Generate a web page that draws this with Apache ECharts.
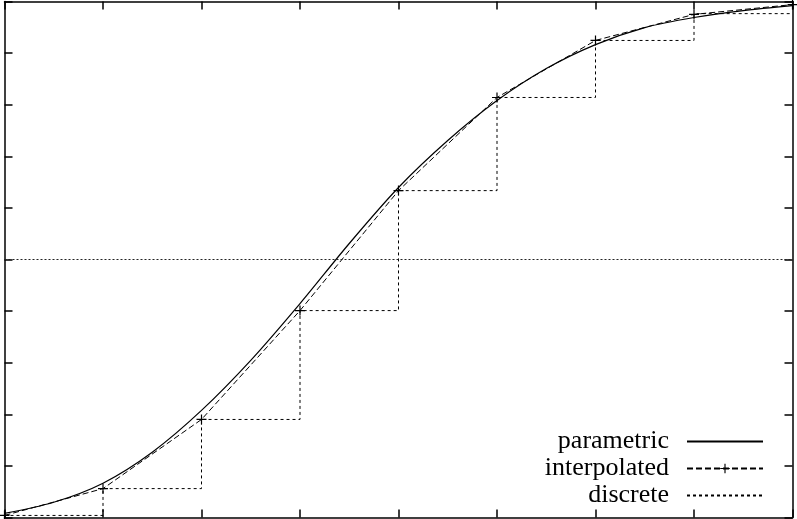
<!DOCTYPE html>
<html>
<head>
<meta charset="utf-8">
<script src="https://cdn.jsdelivr.net/npm/echarts@6/dist/echarts.min.js"></script>
<style>
  html, body { margin: 0; padding: 0; background: #fff; }
  #main { width: 797px; height: 519px; }
</style>
</head>
<body>
<div id="main"></div>
<script>
// values
var paramX = [0, 0.5, 1, 1.5, 2, 2.5, 3, 3.5, 4, 4.5, 5, 5.5, 6, 6.5, 7, 7.5, 8];
var paramY = [-0.984, -0.941, -0.867, -0.747, -0.585, -0.391, -0.171, 0.062, 0.279, 0.461, 0.616, 0.740, 0.833, 0.899, 0.938, 0.965, 0.984];
var knotX = [0, 1, 2, 3, 4, 5, 6, 7, 8];
var interpY = [-0.992, -0.888, -0.620, -0.198, 0.267, 0.628, 0.849, 0.950, 0.988];
var discreteY = [-0.992, -0.888, -0.620, -0.198, 0.267, 0.628, 0.849, 0.953, 0.953];
var names = ['parametric', 'interpolated', 'discrete'];

function pairs(xs, ys) {
  return xs.map(function (x, i) { return [x, ys[i]]; });
}

var plus = 'path://M4.4,0H5.6V4.4H10V5.6H5.6V10H4.4V5.6H0V4.4H4.4Z';

var tick = { show: true, inside: true, length: 8, lineStyle: { color: '#000', width: 1.5 } };
var line = { show: true, onZero: false, lineStyle: { color: '#000', width: 1.5 } };
var noDot = { color: 'transparent', borderColor: 'transparent' };

var myChart = echarts.init(document.getElementById('main'));
myChart.setOption({
  animation: false,
  backgroundColor: '#fff',
  grid: { left: 4.5, right: 4.5, top: 1.5, bottom: 1.5, containLabel: false },
  xAxis: [
    { type: 'value', min: 0, max: 8, interval: 1, position: 'bottom',
      axisLine: line, axisTick: tick, axisLabel: { show: false }, splitLine: { show: false } },
    { type: 'value', min: 0, max: 8, interval: 1, position: 'top',
      axisLine: line, axisTick: tick, axisLabel: { show: false }, splitLine: { show: false } }
  ],
  yAxis: [
    { type: 'value', min: -1, max: 1, interval: 0.2, position: 'left',
      axisLine: line, axisTick: tick, axisLabel: { show: false }, splitLine: { show: false } },
    { type: 'value', min: -1, max: 1, interval: 0.2, position: 'right',
      axisLine: line, axisTick: tick, axisLabel: { show: false }, splitLine: { show: false } }
  ],
  legend: {
    orient: 'vertical',
    align: 'right',
    right: 28,
    bottom: 5,
    itemWidth: 76,
    itemHeight: 12,
    itemGap: 0,
    data: [
      { name: names[0], itemStyle: noDot },
      { name: names[1] },
      { name: names[2], itemStyle: noDot }
    ],
    textStyle: { fontFamily: 'Liberation Serif', fontSize: 26, color: '#000', lineHeight: 27, padding: [0, 13, 0, 0] }
  },
  series: [
    {
      name: names[0], type: 'line', data: pairs(paramX, paramY),
      smooth: 0.3, symbol: 'none',
      lineStyle: { color: '#000', width: 1.2 },
      itemStyle: { color: '#000' },
      markLine: {
        silent: true, symbol: 'none', label: { show: false },
        lineStyle: { color: '#222', width: 1, type: [2, 2] },
        data: [{ yAxis: 0 }]
      }
    },
    {
      name: names[1], type: 'line', data: pairs(knotX, interpY),
      symbol: plus, symbolSize: 10, showSymbol: true,
      lineStyle: { color: '#000', width: 1, type: [6, 3] },
      itemStyle: { color: '#000' }
    },
    {
      name: names[2], type: 'line', data: pairs(knotX, discreteY),
      step: 'end', symbol: 'none',
      lineStyle: { color: '#000', width: 1, type: [3, 3] },
      itemStyle: { color: '#000' }
    }
  ]
});
</script>
</body>
</html>
